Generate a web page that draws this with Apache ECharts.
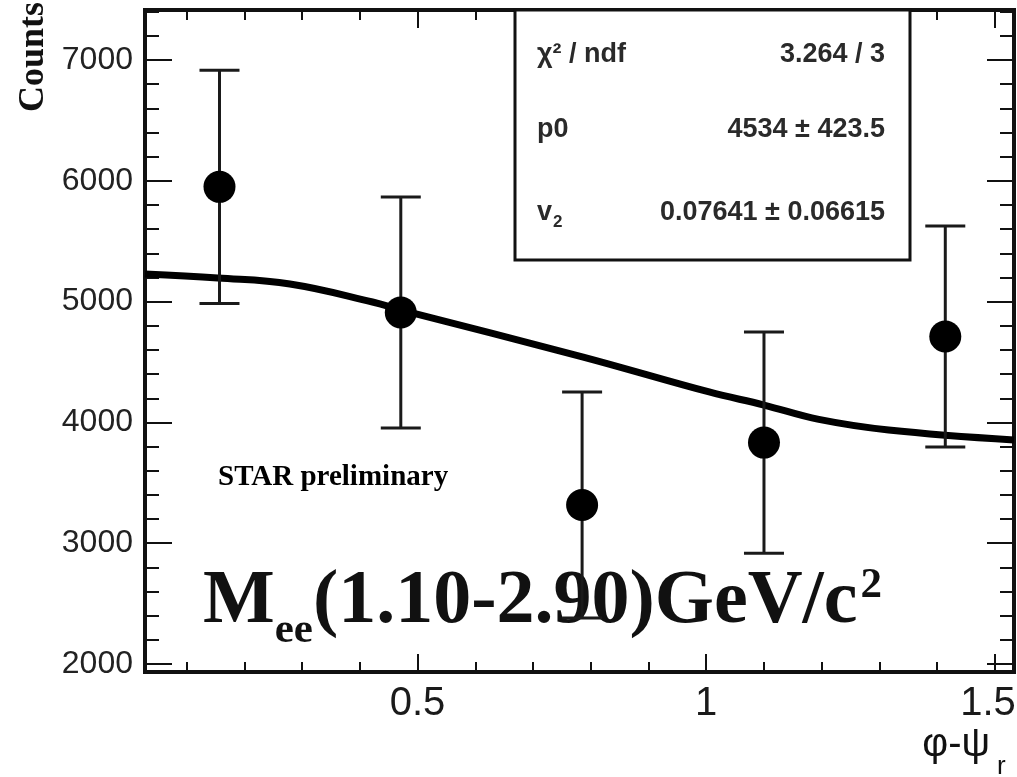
<!DOCTYPE html>
<html><head><meta charset="utf-8">
<script src="https://cdn.jsdelivr.net/npm/echarts@6/dist/echarts.min.js"></script>
<style>html,body{margin:0;padding:0;background:#fff}#c{width:1017px;height:777px}</style>
</head><body><div id="c"></div>
<script>
// ---- data ----
const binCenters = [0.157, 0.471, 0.785, 1.100, 1.414];
const counts = [5950, 4910, 3316, 3833, 4711];
const countErrors = [965, 956, 936, 915, 915];
const fitX = [0.028, 0.154, 0.279, 0.422, 0.472, 0.787, 1.005, 1.100, 1.195, 1.316, 1.533];
const fitY = [5228, 5195, 5146, 4997, 4930, 4541, 4252, 4144, 4025, 3937, 3854];
const xRange = [0.028, 1.533];
const yRange = [1934, 7414];
const xMajorTicks = [0.5, 1, 1.5];
const xMinorTicks = [0.1, 0.2, 0.3, 0.4, 0.6, 0.7, 0.8, 0.9, 1.1, 1.2, 1.3, 1.4];
const yMajorTicks = [2000, 3000, 4000, 5000, 6000, 7000];
const yMinorTicks = [2200, 2400, 2600, 2800, 3200, 3400, 3600, 3800, 4200, 4400, 4600, 4800,
                     5200, 5400, 5600, 5800, 6200, 6400, 6600, 6800, 7200, 7400];
const statLabels = ['χ² / ndf', 'p0', 'v'];
const statValues = ['3.264 / 3', '4534 ± 423.5', '0.07641 ± 0.06615'];
const xTitle = 'φ-ψ';
const xTitleSub = 'r';
const yTitle = 'Counts';
const noteText = 'STAR preliminary';
const massLabel = ['M', 'ee', '(1.10-2.90)GeV/c', '2'];

// ---- chart ----
const chart = echarts.init(document.getElementById('c'), null, {renderer: 'canvas'});
const SANS = '"Liberation Sans", Arial, sans-serif';
const SERIF = '"Liberation Serif", "Times New Roman", serif';
const XLAB = 40;

function xAx(pos, ticks, len, labels) {
  return {
    type: 'value', position: pos, min: xRange[0], max: xRange[1], gridIndex: 0,
    axisLine: {show: false, onZero: false}, splitLine: {show: false},
    axisTick: {show: true, inside: true, length: len, customValues: ticks,
               lineStyle: {color: '#111', width: 2}},
    axisLabel: labels ? {show: true, customValues: ticks, fontFamily: SANS, fontSize: XLAB,
               color: '#1a1a1a', margin: 12,
               formatter: v => (v === xMajorTicks[xMajorTicks.length - 1] ? '{e|' + v + '}' : String(v)),
               rich: {e: {fontFamily: SANS, fontSize: XLAB, color: '#1a1a1a', padding: [0, 14, 0, 0]}}}
             : {show: false}
  };
}
function yAx(pos, ticks, len, labels) {
  return {
    type: 'value', position: pos, min: yRange[0], max: yRange[1], gridIndex: 0,
    axisLine: {show: false, onZero: false}, splitLine: {show: false},
    axisTick: {show: true, inside: true, length: len, customValues: ticks,
               lineStyle: {color: '#111', width: 2}},
    axisLabel: labels ? {show: true, customValues: ticks, fontFamily: SANS, fontSize: 32,
               color: '#222', margin: 12, formatter: v => String(v)} : {show: false}
  };
}

const ctx = document.createElement('canvas').getContext('2d');
function tw(font, s) { ctx.font = font; return ctx.measureText(s).width; }

const bigF = 76, subF = 43;
const mx0 = 203;
const wM = tw('bold ' + bigF + 'px ' + SERIF, massLabel[0]);
const wEE = tw('bold ' + subF + 'px ' + SERIF, massLabel[1]);
const wMain = tw('bold ' + bigF + 'px ' + SERIF, massLabel[2]);

const statFont = 27;
const rowsY = [55, 130, 213];
const graphics = [
  {type: 'rect', z: 10, shape: {x: 515, y: 10, width: 395, height: 250},
   style: {fill: '#fff', stroke: '#111', lineWidth: 3}},
  {type: 'text', z: 1, x: 34, y: 57, rotation: Math.PI / 2,
   style: {text: yTitle, font: 'bold 36px ' + SERIF, fill: '#111', align: 'center', verticalAlign: 'middle'}},
  {type: 'text', z: 1, x: 218, y: 478,
   style: {text: noteText, font: 'bold 29px ' + SERIF, fill: '#000', align: 'left', verticalAlign: 'middle'}},
  {type: 'text', z: 1, x: mx0, y: 602,
   style: {text: massLabel[0], font: 'bold ' + bigF + 'px ' + SERIF, fill: '#111', align: 'left', verticalAlign: 'middle'}},
  {type: 'text', z: 1, x: mx0 + wM, y: 631,
   style: {text: massLabel[1], font: 'bold ' + subF + 'px ' + SERIF, fill: '#111', align: 'left', verticalAlign: 'middle'}},
  {type: 'text', z: 1, x: mx0 + wM + wEE, y: 602,
   style: {text: massLabel[2], font: 'bold ' + bigF + 'px ' + SERIF, fill: '#111', align: 'left', verticalAlign: 'middle'}},
  {type: 'text', z: 1, x: mx0 + wM + wEE + wMain + 3, y: 586,
   style: {text: massLabel[3], font: 'bold ' + subF + 'px ' + SERIF, fill: '#111', align: 'left', verticalAlign: 'middle'}},
  {type: 'text', z: 1, x: 990, y: 745,
   style: {text: xTitle, font: '40px ' + SANS, fill: '#111', align: 'right', verticalAlign: 'middle'}},
  {type: 'text', z: 1, x: 997, y: 767,
   style: {text: xTitleSub, font: '26px ' + SANS, fill: '#111', align: 'left', verticalAlign: 'middle'}}
];
statLabels.forEach((s, i) => {
  graphics.push({type: 'text', z: 11, x: 537, y: rowsY[i],
    style: {text: s, font: 'bold ' + statFont + 'px ' + SANS, fill: '#2a2a2a', align: 'left', verticalAlign: 'middle'}});
  graphics.push({type: 'text', z: 11, x: 885, y: rowsY[i],
    style: {text: statValues[i], font: 'bold ' + statFont + 'px ' + SANS, fill: '#2a2a2a', align: 'right', verticalAlign: 'middle'}});
});
// subscript 2 of v
graphics.push({type: 'text', z: 11, x: 537 + tw('bold ' + statFont + 'px ' + SANS, 'v') + 1, y: rowsY[2] + 9,
  style: {text: '2', font: 'bold 17px ' + SANS, fill: '#2a2a2a', align: 'left', verticalAlign: 'middle'}});

const option = {
  animation: false,
  backgroundColor: '#fff',
  grid: {left: 145, right: 3, top: 10, bottom: 105, show: true, borderColor: '#111', borderWidth: 4,
         backgroundColor: 'transparent', containLabel: false, outerBoundsMode: 'none'},
  xAxis: [
    xAx('bottom', xMajorTicks, 18, true),
    xAx('bottom', xMinorTicks, 10, false),
    xAx('top', xMajorTicks, 18, false),
    xAx('top', xMinorTicks, 10, false)
  ],
  yAxis: [
    yAx('left', yMajorTicks, 27, true),
    yAx('left', yMinorTicks, 14, false),
    yAx('right', yMajorTicks, 27, false),
    yAx('right', yMinorTicks, 14, false)
  ],
  graphic: graphics,
  series: [
    {
      type: 'line', xAxisIndex: 0, yAxisIndex: 0, smooth: 0.4, showSymbol: false, z: 3,
      data: fitX.map((x, i) => [x, fitY[i]]),
      lineStyle: {color: '#000', width: 7}
    },
    {
      type: 'custom', xAxisIndex: 0, yAxisIndex: 0, z: 4,
      data: binCenters.map((x, i) => [x, counts[i], countErrors[i]]),
      renderItem: function (params, api) {
        const x = api.value(0), y = api.value(1), e = api.value(2);
        const t = api.coord([x, y + e]);
        const b = api.coord([x, y - e]);
        const hw = 20;
        const st = {stroke: '#1a1a1a', lineWidth: 3};
        return {type: 'group', children: [
          {type: 'line', shape: {x1: t[0], y1: t[1], x2: b[0], y2: b[1]}, style: st},
          {type: 'line', shape: {x1: t[0] - hw, y1: t[1], x2: t[0] + hw, y2: t[1]}, style: st},
          {type: 'line', shape: {x1: b[0] - hw, y1: b[1], x2: b[0] + hw, y2: b[1]}, style: st}
        ]};
      }
    },
    {
      type: 'scatter', xAxisIndex: 0, yAxisIndex: 0, z: 5, symbol: 'circle', symbolSize: 32,
      data: binCenters.map((x, i) => [x, counts[i]]),
      itemStyle: {color: '#000', opacity: 1}
    }
  ]
};
chart.setOption(option);
</script>
</body></html>
